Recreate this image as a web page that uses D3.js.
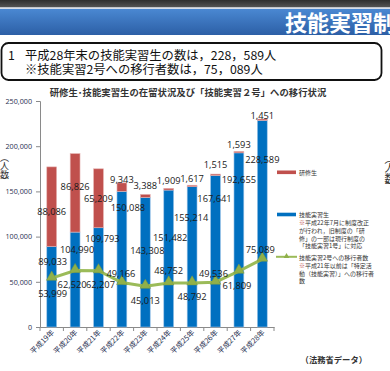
<!DOCTYPE html>
<html><head><meta charset="utf-8">
<script src="https://cdn.jsdelivr.net/npm/d3@7/dist/d3.min.js"></script>
<style>
html,body{margin:0;padding:0;background:#fff;}
svg{display:block;}
</style></head>
<body>
<svg id="c" width="390" height="371"></svg>
<script>
// ---- data ----
const categories = ["平成19年","平成20年","平成21年","平成22年","平成23年","平成24年","平成25年","平成26年","平成27年","平成28年"];
const trainees = [88086, 86826, 65209, 9343, 3388, 1909, 1617, 1515, 1593, 1451];        // 研修生
const interns = [89033, 104990, 109793, 150088, 143308, 151482, 155214, 167641, 192655, 228589]; // 技能実習生
const transfers = [53999, 62520, 62207, 49166, 45013, 48752, 48792, 49536, 61809, 75089];  // 移行者数
const yTicks = [0, 50000, 100000, 150000, 200000, 250000];

// ---- label layout (pixel offsets, not data) ----
const redDy = [45, 33, 30, -3.6, -8.4, -8.3, -7, -9.8, -6.4, -4];
const blueDy = [15, 17, 10.6, 16, 53, 47, 30.6, 23, 26.5, 39];
const blueDx = [1, 2, 4, 6, 2, 1.5, -1, -1, 0, 0];
const greenDy = [15, 14, 13.5, -9, 14, -12, 14, -9, 14.6, -10];
const greenDx = [1, -3, 2, -1, 0, 0, 0, -2, -2, -2];

const svg = d3.select("#c");
const fmt = d3.format(",");
const JP = "'Noto Sans CJK JP', 'Noto Sans', sans-serif";
const NUM = "'Open Sans', 'Liberation Sans', sans-serif";

// ---- header ----
const defs = svg.append("defs");
const g1 = defs.append("linearGradient").attr("id","hdr").attr("x1",0).attr("y1",0).attr("x2",0).attr("y2",1);
g1.append("stop").attr("offset","0%").attr("stop-color","#4a88d2");
g1.append("stop").attr("offset","100%").attr("stop-color","#2c5fa6");
const g2 = defs.append("linearGradient").attr("id","top").attr("x1",0).attr("y1",0).attr("x2",0).attr("y2",1);
g2.append("stop").attr("offset","0%").attr("stop-color","#2e2e2e");
g2.append("stop").attr("offset","100%").attr("stop-color","#555");
svg.append("rect").attr("x",0).attr("y",0).attr("width",390).attr("height",7.5).attr("fill","url(#top)");
svg.append("rect").attr("x",0).attr("y",7.5).attr("width",390).attr("height",1.5).attr("fill","#d7dde8");
svg.append("rect").attr("x",0).attr("y",9).attr("width",390).attr("height",26).attr("fill","url(#hdr)");
svg.append("text").attr("x",285).attr("y",31).attr("fill","#fff")
  .style("font-family",JP).style("font-size","22px").style("font-weight","bold")
  .text("技能実習制度");

// ---- summary box ----
svg.append("rect").attr("x",1.5).attr("y",43).attr("width",380).attr("height",37)
  .attr("rx",7).attr("fill","#fff").attr("stroke","#111").attr("stroke-width",1.8);
svg.append("text").attr("x",8).attr("y",59.5).attr("fill","#111")
  .style("font-family",JP).style("font-size","12.3px").text("1");
svg.append("text").attr("x",25).attr("y",59.5).attr("fill","#111")
  .style("font-family",JP).style("font-size","12.3px").text("平成28年末の技能実習生の数は，228，589人");
svg.append("text").attr("x",25).attr("y",73.5).attr("fill","#111")
  .style("font-family",JP).style("font-size","12.3px").text("※技能実習2号への移行者数は，75，089人");

// ---- chart title ----
svg.append("text").attr("x",188).attr("y",95.5).attr("text-anchor","middle").attr("fill","#333")
  .style("font-family",JP).style("font-size","9.4px").style("font-weight","bold")
  .text("研修生･技能実習生の在留状況及び「技能実習２号」への移行状況");

// ---- scales ----
const x = d3.scaleBand().domain(categories).range([40, 274]).paddingInner(0.58).paddingOuter(0.29);
const y = d3.scaleLinear().domain([0, 250000]).range([327, 101]);
const step = x.step(), bw = x.bandwidth();
const cx = c => x(c) + bw / 2;

// ---- axes ----
const yAxis = svg.append("g").attr("transform","translate(40,0)")
  .call(d3.axisLeft(y).tickValues(yTicks).tickFormat(fmt).tickSize(4).tickPadding(4));
yAxis.select(".domain").attr("stroke","#8a8a8a");
yAxis.selectAll(".tick line").attr("stroke","#8a8a8a");
yAxis.selectAll(".tick text").attr("fill","#1f3050").style("font-family",NUM).style("font-size","7.2px");

const xAxis = svg.append("g").attr("transform","translate(0,327)")
  .call(d3.axisBottom(x).tickSize(0).tickPadding(0));
xAxis.select(".domain").attr("stroke","#8a8a8a");
xAxis.selectAll(".tick text").remove();
// boundary ticks
const bounds = categories.map(c => x(c) - (step - bw) / 2).concat([x(categories[9]) + bw + (step - bw) / 2]);
xAxis.selectAll(".btick").data(bounds).enter().append("line")
  .attr("x1",d=>d).attr("x2",d=>d).attr("y1",0).attr("y2",4).attr("stroke","#8a8a8a");
// rotated labels
svg.selectAll(".xl").data(categories).enter().append("text")
  .attr("transform", c => `translate(${cx(c)+3},${333}) rotate(-45)`)
  .attr("text-anchor","end").attr("fill","#1f3050")
  .style("font-family",JP).style("font-size","7.4px").text(c => c);

// ---- bars ----
const totals = categories.map((c,i) => interns[i] + trainees[i]);
svg.selectAll(".blue").data(categories).enter().append("rect")
  .attr("x", c => x(c)).attr("width", bw)
  .attr("y", (c,i) => y(interns[i])).attr("height", (c,i) => y(0) - y(interns[i]))
  .attr("fill","#0070c0").attr("stroke","#9cc3e8").attr("stroke-width",0.6);
svg.selectAll(".red").data(categories).enter().append("rect")
  .attr("x", c => x(c)).attr("width", bw)
  .attr("y", (c,i) => y(totals[i])).attr("height", (c,i) => y(interns[i]) - y(totals[i]))
  .attr("fill","#c0504d").attr("stroke","#e6b4b3").attr("stroke-width",0.6);

// ---- line ----
const line = d3.line().x((d,i) => cx(categories[i])).y(d => y(d));
svg.append("path").datum(transfers).attr("d", line).attr("fill","none")
  .attr("stroke","#9bbb59").attr("stroke-width",3).attr("stroke-linejoin","round");
const tri = d3.symbol().type(d3.symbolTriangle).size(48);
svg.selectAll(".mk").data(transfers).enter().append("path")
  .attr("d", tri).attr("transform", (d,i) => `translate(${cx(categories[i])},${y(d)-1})`)
  .attr("fill","#8fb04a").attr("stroke","#7a9a3c").attr("stroke-width",0.5);

// ---- data labels ----
const lab = (sel) => sel.attr("text-anchor","middle").attr("dominant-baseline","central")
  .attr("fill","#1a1a1a").style("font-family",NUM).style("font-size","9.3px");
svg.selectAll(".rl").data(trainees).enter().append("text").call(lab)
  .attr("x",(d,i)=>cx(categories[i])).attr("y",(d,i)=>y(totals[i])+redDy[i]).text(fmt);
svg.selectAll(".bl").data(interns).enter().append("text").call(lab)
  .attr("x",(d,i)=>cx(categories[i])+blueDx[i]).attr("y",(d,i)=>y(d)+blueDy[i]).text(fmt);
svg.selectAll(".gl").data(transfers).enter().append("text").call(lab)
  .attr("x",(d,i)=>cx(categories[i])+greenDx[i]).attr("y",(d,i)=>y(d)+greenDy[i]).text(fmt);

// ---- legend ----
const LX = 277, TX = 299;
const lt = (yy, parts) => {
  const t = svg.append("text").attr("x",TX).attr("y",yy).attr("dominant-baseline","central")
    .attr("fill","#333").style("font-family",JP).style("font-size","6px");
  parts.forEach(p => t.append("tspan").attr("fill", p[1] || "#333").text(p[0]));
};
svg.append("rect").attr("x",LX).attr("y",170.5).attr("width",19).attr("height",3.6).attr("fill","#c0504d");
lt(172.3, [["研修生"]]);
svg.append("rect").attr("x",LX).attr("y",212.7).attr("width",19).attr("height",3.6).attr("fill","#0070c0");
lt(213.5, [["技能実習生"]]);
lt(221.7, [["※","#c0504d"],["平成22年7月に制度改正"]]);
lt(229.9, [["が行われ，旧制度の「研"]]);
lt(237.7, [["修」の一部は現行制度の"]]);
lt(245.3, [["「技能実習1号」に対応"]]);
svg.append("line").attr("x1",LX-1).attr("x2",LX+20).attr("y1",256.8).attr("y2",256.8)
  .attr("stroke","#9bbb59").attr("stroke-width",2);
svg.append("path").attr("d", d3.symbol().type(d3.symbolTriangle).size(14))
  .attr("transform",`translate(${LX+9.5},256.4)`).attr("fill","#8fb04a");
lt(256.7, [["技能実習2号への移行者数"]]);
lt(265, [["※","#c0504d"],["平成21年以前は「特定活"]]);
lt(272.7, [["動（技能実習）」への移行者"]]);
lt(280.3, [["数"]]);

// ---- axis unit labels (人数) ----
const unit = (xx, y0, fs) => {
  const t = svg.append("g").style("font-family",JP).style("font-size",fs+"px").attr("fill","#333");
  t.append("text").attr("x",xx).attr("y",y0).attr("text-anchor","middle").text("︵");
  t.append("text").attr("x",xx).attr("y",y0+fs*0.85).attr("text-anchor","middle").text("人");
  t.append("text").attr("x",xx).attr("y",y0+fs*1.85).attr("text-anchor","middle").text("数");
  t.append("text").attr("x",xx).attr("y",y0+fs*2.55).attr("text-anchor","middle").text("︶");
};
unit(4.5, 161, 9);
unit(390, 163, 11);

// ---- source ----
svg.append("text").attr("x",367).attr("y",363).attr("text-anchor","end").attr("fill","#333")
  .style("font-family",JP).style("font-size","8.3px").style("font-weight","bold").text("（法務省データ）");
</script>
</body></html>
